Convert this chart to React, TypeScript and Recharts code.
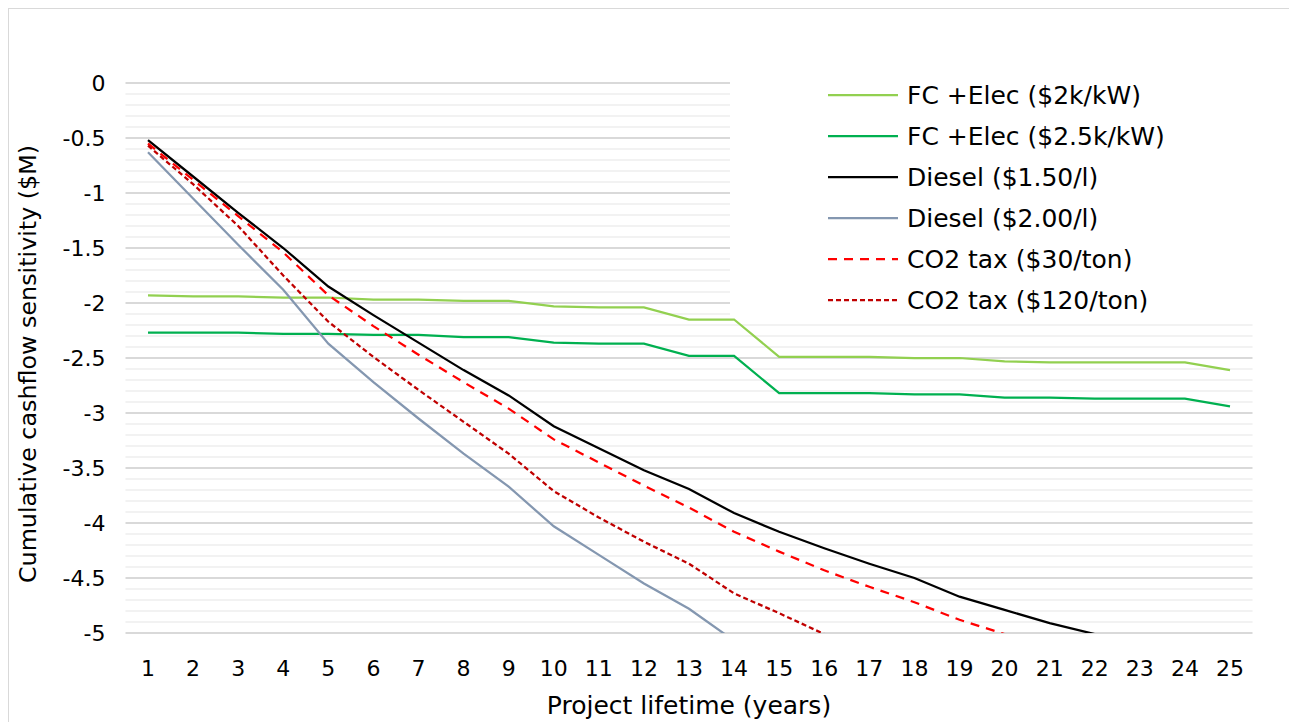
import { LineChart, Line, XAxis, YAxis, CartesianGrid, Legend } from 'recharts';

const years = [1, 2, 3, 4, 5, 6, 7, 8, 9, 10, 11, 12, 13, 14, 15, 16, 17, 18, 19, 20, 21, 22, 23, 24, 25];

const fc2k = [-1.93, -1.94, -1.94, -1.95, -1.95, -1.97, -1.97, -1.98, -1.98, -2.03, -2.04, -2.04, -2.15, -2.15, -2.49, -2.49, -2.49, -2.5, -2.5, -2.53, -2.54, -2.54, -2.54, -2.54, -2.61];
const fc25k = [-2.27, -2.27, -2.27, -2.28, -2.28, -2.29, -2.29, -2.31, -2.31, -2.36, -2.37, -2.37, -2.48, -2.48, -2.82, -2.82, -2.82, -2.83, -2.83, -2.86, -2.86, -2.87, -2.87, -2.87, -2.94];
const diesel150 = [-0.52, -0.85, -1.18, -1.5, -1.85, -2.11, -2.36, -2.61, -2.84, -3.12, -3.32, -3.52, -3.69, -3.91, -4.08, -4.23, -4.37, -4.5, -4.67, -4.79, -4.91, -5.01, null, null, null];
const diesel200 = [-0.63, -1.05, -1.47, -1.88, -2.37, -2.72, -3.05, -3.37, -3.67, -4.03, -4.29, -4.55, -4.78, -5.07, null, null, null, null, null, null, null, null, null, null, null];
const co2tax30 = [-0.55, -0.88, -1.21, -1.54, -1.93, -2.21, -2.47, -2.72, -2.96, -3.24, -3.45, -3.66, -3.86, -4.08, -4.26, -4.43, -4.58, -4.72, -4.88, -5.01, null, null, null, null, null];
const co2tax120 = [-0.57, -0.92, -1.3, -1.75, -2.17, -2.49, -2.79, -3.08, -3.37, -3.71, -3.95, -4.17, -4.37, -4.64, -4.82, -5.01, null, null, null, null, null, null, null, null, null];

const yTicks = [0, -0.5, -1, -1.5, -2, -2.5, -3, -3.5, -4, -4.5, -5];
// grid every 0.1, every 5th one is a major line
const gridValues = [
  0, -0.1, -0.2, -0.3, -0.4, -0.5, -0.6, -0.7, -0.8, -0.9, -1, -1.1, -1.2, -1.3, -1.4, -1.5, -1.6, -1.7,
  -1.8, -1.9, -2, -2.1, -2.2, -2.3, -2.4, -2.5, -2.6, -2.7, -2.8, -2.9, -3, -3.1, -3.2, -3.3, -3.4, -3.5,
  -3.6, -3.7, -3.8, -3.9, -4, -4.1, -4.2, -4.3, -4.4, -4.5, -4.6, -4.7, -4.8, -4.9, -5,
];

const data = years.map((y, i) => ({
  year: y,
  fc2k: fc2k[i],
  fc25k: fc25k[i],
  diesel150: diesel150[i],
  diesel200: diesel200[i],
  co2tax30: co2tax30[i],
  co2tax120: co2tax120[i],
}));

const series = [
  { key: 'fc2k', name: 'FC +Elec ($2k/kW)', color: '#92D050', dash: undefined },
  { key: 'fc25k', name: 'FC +Elec ($2.5k/kW)', color: '#00B050', dash: undefined },
  { key: 'diesel150', name: 'Diesel ($1.50/l)', color: '#000000', dash: undefined },
  { key: 'diesel200', name: 'Diesel ($2.00/l)', color: '#8497B0', dash: undefined },
  { key: 'co2tax30', name: 'CO2 tax ($30/ton)', color: '#FF0000', dash: '9 7' },
  { key: 'co2tax120', name: 'CO2 tax ($120/ton)', color: '#C00000', dash: '5 3' },
];

const FONT = '"DejaVu Sans", "Liberation Sans", Arial, sans-serif';

const LegendBox = () => (
  <svg width={523} height={246} style={{ display: 'block' }}>
    {series.map((s, i) => {
      const cy = 23 + i * 41;
      return (
        <g key={s.key}>
          <line x1={98} x2={168} y1={cy} y2={cy} stroke={s.color} strokeWidth={2.25} strokeDasharray={s.dash} />
          <text x={177} y={cy + 9} fontSize={25} fontFamily={FONT} fill="#000">
            {s.name}
          </text>
        </g>
      );
    })}
  </svg>
);

const YTitle = () => (
  <text x={27} y={355} transform="rotate(-90 27 355)" textAnchor="middle" fontSize={23.8} fontFamily={FONT} fill="#000">
    Cumulative cashflow sensitivity ($M)
  </text>
);

const gridCoords = (args: any) => {
  const { yAxis, offset } = args;
  if (yAxis && typeof yAxis.scale === 'function') return gridValues.map((v) => yAxis.scale(v));
  return gridValues.map((v) => offset.top + (-v / 5) * offset.height);
};

const GridLine = (p: any) => {
  const major = p.index % 5 === 0;
  return (
    <line
      x1={p.x1}
      x2={p.x2}
      y1={p.y1}
      y2={p.y2}
      stroke={major ? '#d9d9d9' : '#f2f2f2'}
      strokeWidth={2}
    />
  );
};

export default function App() {
  return (
    <div style={{ width: 1280, height: 714, border: '1px solid #d9d9d9', background: '#fff' }}>
      <LineChart width={1280} height={714} data={data} margin={{ top: 74, right: 36.5, left: 0, bottom: 0 }}>
        <CartesianGrid vertical={false} horizontalCoordinatesGenerator={gridCoords} horizontal={(p: any) => <GridLine key={p.key} {...p} />} />
        <XAxis
          dataKey="year"
          type="category"
          padding={{ left: 22.5, right: 22.5 }}
          axisLine={false}
          tickLine={false}
          tickSize={0}
          tickMargin={27}
          height={90}
          interval={0}
          tick={{ fontSize: 22, fontFamily: FONT, fill: '#000' }}
          label={{ value: 'Project lifetime (years)', position: 'insideBottom', offset: 9, fontSize: 25, fontFamily: FONT, fill: '#000' }}
        />
        <YAxis
          type="number"
          domain={[-5, 0]}
          ticks={yTicks}
          allowDataOverflow
          axisLine={false}
          tickLine={false}
          tickSize={0}
          tickMargin={20}
          width={116.5}
          tick={{ fontSize: 22, fontFamily: FONT, fill: '#000' }}
          label={<YTitle />}
        />
        <Legend
          layout="vertical"
          align="center"
          verticalAlign="middle"
          content={<LegendBox />}
          wrapperStyle={{ left: 721, top: 63, width: 523, height: 246, background: '#fff', margin: 0 }}
        />
        {series.map((s) => (
          <Line
            key={s.key}
            type="linear"
            dataKey={s.key}
            name={s.name}
            stroke={s.color}
            strokeWidth={2.25}
            strokeDasharray={s.dash}
            dot={false}
            activeDot={false}
            isAnimationActive={false}
          />
        ))}
      </LineChart>
    </div>
  );
}
